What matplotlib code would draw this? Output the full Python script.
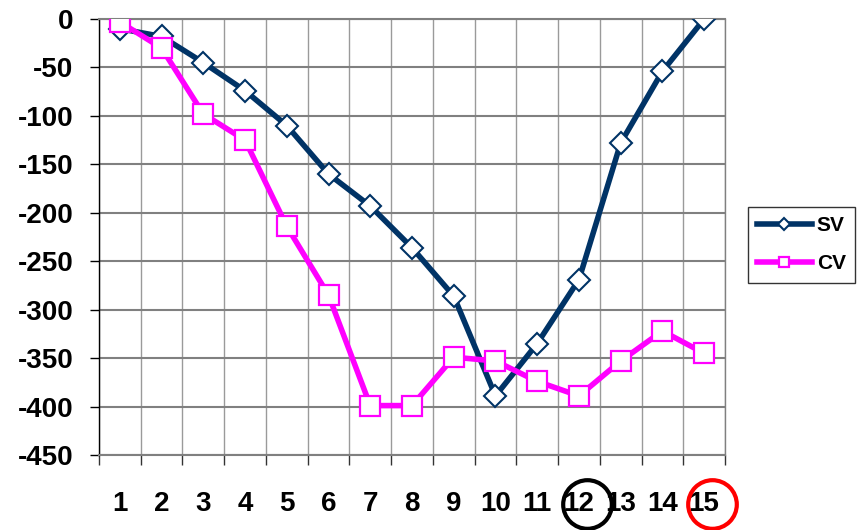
import matplotlib.pyplot as plt
import matplotlib.transforms as mtransforms

plt.rcParams['font.family'] = ['Liberation Sans', 'DejaVu Sans']
plt.rcParams['font.weight'] = 'bold'

# категории и значения рядов
categories = list(range(1, 16))
sv = [-10, -18, -45, -74, -110, -160, -193, -236, -286, -389, -335, -269, -128, -54, 0]
cv = [-3, -30, -98, -125, -214, -285, -399, -399, -349, -353, -374, -389, -353, -322, -345]
y_ticks = list(range(-450, 1, 50))
# выделенные номера на оси X
highlight = {12: 'black', 15: 'red'}

fig = plt.figure(figsize=(8.63, 5.30), dpi=100)
ax = fig.add_axes([0.1147, 0.1415, 0.7254, 0.8226])

ax.plot(categories, sv, color='#003366', lw=4.0, marker='D', ms=11.5,
        mfc='white', mec='#003366', mew=1.5, label='SV', zorder=3)
ax.plot(categories, cv, color='#FF00FF', lw=4.0, marker='s', ms=14,
        mfc='white', mec='#FF00FF', mew=1.6, label='CV', zorder=4)

ax.set_xlim(0.5, 15.5)
ax.set_ylim(-450, 0)

# границы категорий: сетка и засечки
bounds = [c - 0.5 for c in categories] + [categories[-1] + 0.5]
ax.set_xticks(bounds)
ax.set_xticklabels([])
ax.set_xticks(categories, minor=True)
ax.set_xticklabels([str(c) for c in categories], minor=True,
                   fontsize=20, fontweight='bold')
ax.tick_params(axis='x', which='major', length=7, width=1, color='#333333', direction='out')
ax.tick_params(axis='x', which='minor', length=0, pad=26)

ax.set_yticks(y_ticks)
ax.set_yticklabels([str(v) for v in y_ticks], fontsize=20, fontweight='bold')
ax.tick_params(axis='y', length=6.5, width=1, color='black', direction='out', pad=12)

ax.grid(axis='x', which='major', color='#9a9a9a', lw=1.0)
ax.grid(axis='y', color='#808080', lw=1.5)
ax.set_axisbelow(True)

for side in ['top', 'right', 'bottom']:
    ax.spines[side].set_color('#808080')
    ax.spines[side].set_linewidth(1.5 if side != 'right' else 1.0)
ax.spines['left'].set_color('black')
ax.spines['left'].set_linewidth(1.0)

# кружки вокруг подписей
trans = mtransforms.blended_transform_factory(ax.transData, ax.transAxes)
for cat, col in highlight.items():
    ax.plot([cat + 0.2], [-0.112], marker='o', ms=35, mfc='none', mec=col,
            mew=3, transform=trans, clip_on=False)

leg = ax.legend(loc='upper left', bbox_to_anchor=(0.8667, 0.6094),
                bbox_transform=fig.transFigure, borderaxespad=0,
                fancybox=False, frameon=True, edgecolor='black',
                prop={'size': 15, 'weight': 'bold'}, handlelength=2.6,
                handletextpad=0.25, labelspacing=0.9, markerscale=0.55,
                borderpad=0.45)
leg.get_frame().set_linewidth(1.0)

fig.savefig('out.png', dpi=100)
